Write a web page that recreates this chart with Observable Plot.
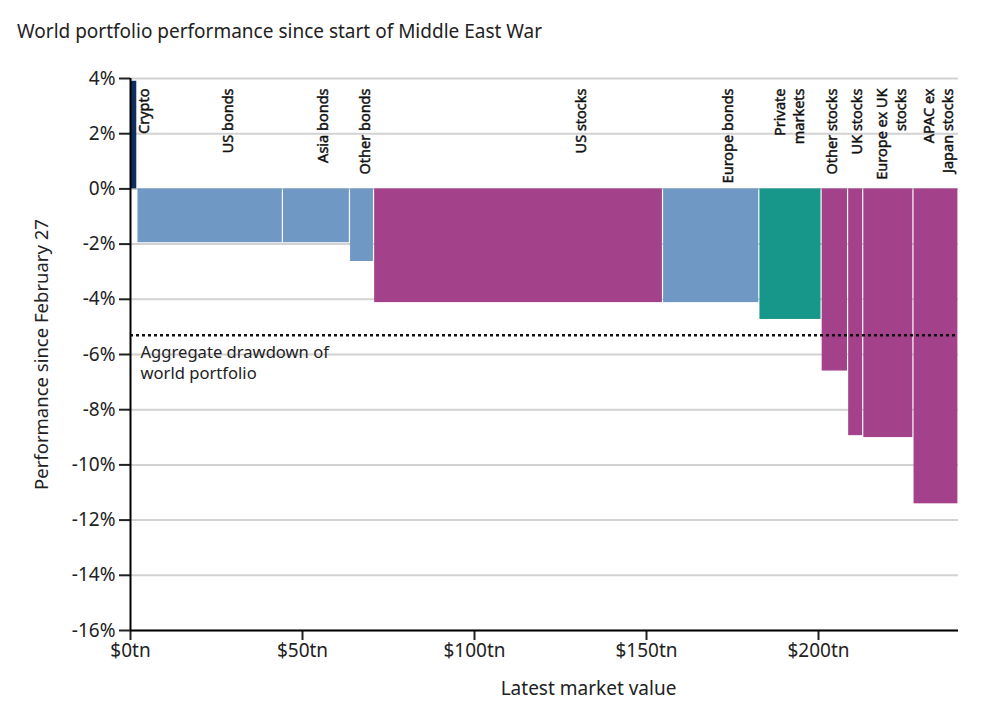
<!DOCTYPE html>
<html>
<head>
<meta charset="utf-8">
<script src="https://cdn.jsdelivr.net/npm/d3@7"></script>
<script src="https://cdn.jsdelivr.net/npm/@observablehq/plot@0.6"></script>
<style>
  html, body { margin: 0; padding: 0; background: #fff; }
  body { width: 993px; height: 720px; overflow: hidden; font-family: "Noto Sans", sans-serif; }
  #title { height: 60px; box-sizing: border-box; padding: 20px 0 0 17px; font-size: 19px; line-height: 1.2; color: #222; }
  #chart svg { display: block; }
</style>
</head>
<body>
<div id="title">World portfolio performance since start of Middle East War</div>
<div id="chart"></div>
<script>
// Categories, in the order they are stacked along the x axis
const names = ["Crypto", "US bonds", "Asia bonds", "Other bonds", "US stocks", "Europe bonds",
  "Private\nmarkets", "Other stocks", "UK stocks", "Europe ex UK\nstocks", "APAC ex\nJapan stocks"];
// Latest market value, $tn (bar widths)
const marketValue = [2.0, 42.3, 19.5, 7.0, 84.0, 28.0, 18.1, 7.7, 4.4, 14.6, 13.1];
// Performance since February 27, %
const performance = [3.9, -1.95, -1.95, -2.63, -4.12, -4.12, -4.73, -6.6, -8.94, -9.01, -11.41];
// Asset class (colour)
const assetClass = ["Crypto", "Bonds", "Bonds", "Bonds", "Stocks", "Bonds",
  "Private markets", "Stocks", "Stocks", "Stocks", "Stocks"];
// Where each category label sits along the x axis, $tn
const labelAt = [3.6, 27.9, 55.7, 67.8, 130.8, 173.5, 191.3, 203.7, 210.8, 220.9, 234.7];
// Aggregate drawdown of the world portfolio, %
const aggregate = -5.3;
// Tick values
const yTicks = [4, 2, 0, -2, -4, -6, -8, -10, -12, -14, -16];
const xTicks = [0, 50, 100, 150, 200];

const classes = ["Crypto", "Bonds", "Stocks", "Private markets"];
const classColors = ["#0f2d5f", "#7098c4", "#a3428a", "#17978a"];

let cum = 0;
const rows = names.map((name, i) => {
  const x1 = cum;
  cum += marketValue[i];
  return {name, x1, x2: cum, perf: performance[i], cls: assetClass[i], labelAt: labelAt[i]};
});
const total = cum;

const chart = Plot.plot({
  width: 993,
  height: 660,
  marginTop: 18,
  marginBottom: 90,
  marginLeft: 130,
  marginRight: 35,
  style: {fontFamily: "Noto Sans, sans-serif", color: "#222", background: "#fff"},
  x: {domain: [0, total]},
  y: {domain: [-16, 4]},
  color: {domain: classes, range: classColors},
  marks: [
    Plot.ruleY(yTicks, {stroke: "#d2d2d2", strokeWidth: 2}),
    Plot.rectY(rows, {x1: "x1", x2: "x2", y1: 0, y2: "perf", fill: "cls", insetLeft: 0.6, insetRight: 0.6}),
    Plot.ruleY([aggregate], {stroke: "#111", strokeWidth: 2.5, strokeDasharray: "3,3"}),
    Plot.text(["Aggregate drawdown of\nworld portfolio"], {x: 0, y: aggregate, dx: 10, dy: 8,
      textAnchor: "start", lineAnchor: "top", lineHeight: 1.25, fontSize: 16.6, fill: "#222"}),
    Plot.text(rows, {x: "labelAt", frameAnchor: "top", dy: 10, text: "name", rotate: -90,
      textAnchor: "end", lineAnchor: "middle", fontSize: 14.5, fill: "#111", stroke: "#111",
      strokeWidth: 0.45, lineHeight: 1.3}),
    Plot.axisY({ticks: yTicks, tickFormat: d => d + "%", tickSize: 11, tickPadding: 4, fontSize: 19, label: null, strokeWidth: 2}),
    Plot.axisX({ticks: xTicks, tickFormat: d => "$" + d + "tn", tickSize: 10, tickPadding: 3, fontSize: 19, label: null, strokeWidth: 2}),
    Plot.ruleX([0], {stroke: "#000", strokeWidth: 2}),
    Plot.ruleY([-16], {stroke: "#000", strokeWidth: 2}),
    Plot.text(["Performance since February 27"], {frameAnchor: "left", dx: -88, rotate: -90, textAnchor: "middle", fontSize: 18.5, fill: "#222"}),
    Plot.text(["Latest market value"], {frameAnchor: "bottom", dx: 44, dy: 64, fontSize: 19, fill: "#222"})
  ]
});
document.getElementById("chart").appendChild(chart);
</script>
</body>
</html>
